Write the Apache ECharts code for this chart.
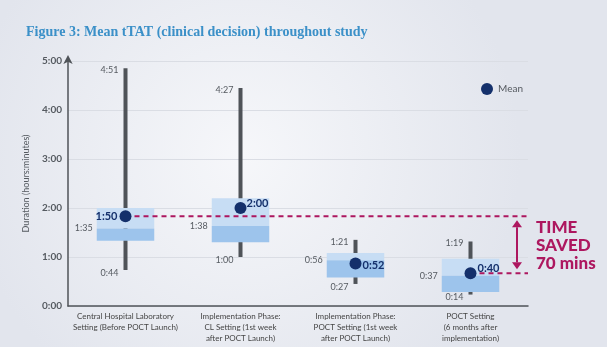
<!DOCTYPE html>
<html>
<head>
<meta charset="utf-8">
<script src="https://cdn.jsdelivr.net/npm/echarts@6/dist/echarts.min.js"></script>
<style>
  html, body { margin: 0; padding: 0; }
  #chart { width: 607px; height: 347px; }
</style>
</head>
<body>
<div id="chart"></div>
<script>
// Turnaround times, all in minutes
const categories = [
  'Central Hospital Laboratory\nSetting (Before POCT Launch)',
  'Implementation Phase:\nCL Setting (1st week\nafter POCT Launch)',
  'Implementation Phase:\nPOCT Setting (1st week\nafter POCT Launch)',
  'POCT Setting\n(6 months after\nimplementation)'
];
const maxVals    = [291, 267, 81, 79];
const q3Vals     = [120, 132, 65, 58];
const medianVals = [95, 98, 56, 37];
const q1Vals     = [80, 78, 35, 17];
const minVals    = [44, 60, 27, 14];
const meanVals   = [110, 120, 52, 40];
const yTicks     = [0, 60, 120, 180, 240, 300];

const fmt = m => Math.floor(m / 60) + ':' + String(Math.round(m % 60)).padStart(2, '0');

const GREY = '#4f5358';
const NAVY = '#14306b';
const CRIMSON = '#ad175f';
const FONT = 'Lato, "Open Sans", sans-serif';

const chart = echarts.init(document.getElementById('chart'));

const boxData = categories.map((c, i) => [i, minVals[i], q1Vals[i], medianVals[i], q3Vals[i], maxVals[i]]);

function renderBox(params, api) {
  const i = api.value(0);
  const top = api.coord([i, api.value(5)]);
  const bot = api.coord([i, api.value(1)]);
  const q1 = api.coord([i, api.value(2)]);
  const med = api.coord([i, api.value(3)]);
  const q3 = api.coord([i, api.value(4)]);
  const bw = api.size([1, 0])[0] * 0.5;
  const x0 = top[0] - bw / 2;
  const lbl = (text, x, y, align) => ({
    type: 'text', z2: 5,
    style: { text, x, y, align, verticalAlign: 'middle', fill: '#555a60', font: '9px ' + FONT }
  });
  return {
    type: 'group',
    children: [
      { type: 'line', shape: { x1: top[0], y1: top[1], x2: bot[0], y2: bot[1] },
        style: { stroke: GREY, lineWidth: 4 } },
      { type: 'rect', shape: { x: x0, y: q3[1], width: bw, height: med[1] - q3[1] },
        style: { fill: '#c7ddf4' } },
      { type: 'rect', shape: { x: x0, y: med[1], width: bw, height: q1[1] - med[1] },
        style: { fill: '#9dc4ec' } },
      lbl(fmt(api.value(5)), top[0] - 7, top[1] + 2, 'right'),
      lbl(fmt(api.value(1)), bot[0] - 7, bot[1] + 3, 'right'),
      lbl(fmt(api.value(3)), x0 - 4, med[1], 'right')
    ]
  };
}

// Dashed reference lines at the first and last means, plus the "time saved" arrow
function renderSaved(params, api) {
  const cs = params.coordSys;
  const right = cs.x + cs.width;
  const a = api.coord([0, meanVals[0]]);
  const b = api.coord([3, meanVals[3]]);
  const ax = right - 11;
  const h = 7, w = 5;
  const dash = { stroke: CRIMSON, lineWidth: 2, lineDash: [5, 4] };
  const saved = meanVals[0] - meanVals[3];
  return {
    type: 'group',
    children: [
      { type: 'line', shape: { x1: a[0], y1: a[1], x2: right, y2: a[1] }, style: dash },
      { type: 'line', shape: { x1: b[0], y1: b[1], x2: right, y2: b[1] }, style: dash },
      { type: 'line', shape: { x1: ax, y1: a[1] + 4 + h, x2: ax, y2: b[1] - 4 - h },
        style: { stroke: CRIMSON, lineWidth: 2 } },
      { type: 'polygon', shape: { points: [[ax, a[1] + 4], [ax - w, a[1] + 4 + h], [ax + w, a[1] + 4 + h]] },
        style: { fill: CRIMSON } },
      { type: 'polygon', shape: { points: [[ax, b[1] - 4], [ax - w, b[1] - 4 - h], [ax + w, b[1] - 4 - h]] },
        style: { fill: CRIMSON } },
      { type: 'text', style: {
          text: 'TIME\nSAVED\n' + saved + ' mins', x: right + 8, y: (a[1] + b[1]) / 2 + 1,
          verticalAlign: 'middle', align: 'left', fill: CRIMSON,
          font: '900 17px ' + FONT, lineHeight: 18 } }
    ]
  };
}

const meanLabelPos = [
  { dx: -8, dy: 0, align: 'right' },
  { dx: 6, dy: -5, align: 'left' },
  { dx: 7, dy: 2, align: 'left' },
  { dx: 7, dy: -5, align: 'left' }
];

function renderMeanLabel(params, api) {
  const i = api.value(0);
  const p = api.coord([i, api.value(1)]);
  const o = meanLabelPos[i];
  return {
    type: 'text',
    style: { text: fmt(api.value(1)), x: p[0] + o.dx, y: p[1] + o.dy, align: o.align,
      verticalAlign: 'middle', fill: NAVY, font: 'bold 11px ' + FONT }
  };
}

chart.setOption({
  backgroundColor: {
    type: 'radial', x: 0.4, y: 0.45, r: 0.8,
    colorStops: [{ offset: 0, color: '#f6f7fa' }, { offset: 1, color: '#e2e5ed' }]
  },
  animation: false,
  title: {
    text: 'Figure 3: Mean tTAT (clinical decision) throughout study',
    left: 21, top: 20,
    textStyle: { color: '#3b90c8', fontFamily: '"Liberation Serif", serif', fontWeight: 'bold', fontSize: 14 }
  },
  legend: {
    data: ['Mean'], left: 476, top: 78, icon: 'circle', itemWidth: 12, itemHeight: 12, itemGap: 5,
    textStyle: { color: '#555a60', fontSize: 10, fontFamily: FONT }
  },
  grid: { left: 68, right: 79, top: 61, bottom: 41 },
  xAxis: {
    type: 'category', data: categories,
    axisLine: { lineStyle: { color: GREY, width: 1.5 } },
    axisTick: { show: false },
    axisLabel: { color: '#444', fontSize: 8, lineHeight: 11, margin: 5, fontFamily: FONT, interval: 0 }
  },
  yAxis: {
    type: 'value', min: yTicks[0], max: yTicks[yTicks.length - 1], interval: 60,
    name: 'Duration (hours:minutes)', nameLocation: 'middle', nameGap: 37,
    nameTextStyle: { color: '#555a60', fontSize: 9, fontFamily: FONT },
    axisLine: { show: true, symbol: ['none', 'arrow'], symbolSize: [7, 9], symbolOffset: [0, 6],
      lineStyle: { color: GREY, width: 1.5 } },
    axisTick: { show: false },
    splitLine: { lineStyle: { color: '#dadde4', width: 1.2 } },
    axisLabel: { color: '#555a60', fontSize: 10, fontWeight: 'bold', margin: 6, fontFamily: FONT,
      formatter: v => fmt(v) }
  },
  series: [
    { type: 'custom', name: 'box', renderItem: renderBox, data: boxData, z: 2,
      encode: { x: 0, y: [1, 2, 3, 4, 5] } },
    { type: 'custom', name: 'saved', renderItem: renderSaved, data: [[0, meanVals[0]]], z: 3,
      encode: { x: 0, y: 1 } },
    { type: 'scatter', name: 'Mean', data: meanVals.map((v, i) => [i, v]), symbolSize: 12,
      itemStyle: { color: NAVY, opacity: 1 }, z: 4 },
    { type: 'custom', name: 'meanLabel', renderItem: renderMeanLabel,
      data: meanVals.map((v, i) => [i, v]), z: 5, encode: { x: 0, y: 1 } }
  ]
});
</script>
</body>
</html>
